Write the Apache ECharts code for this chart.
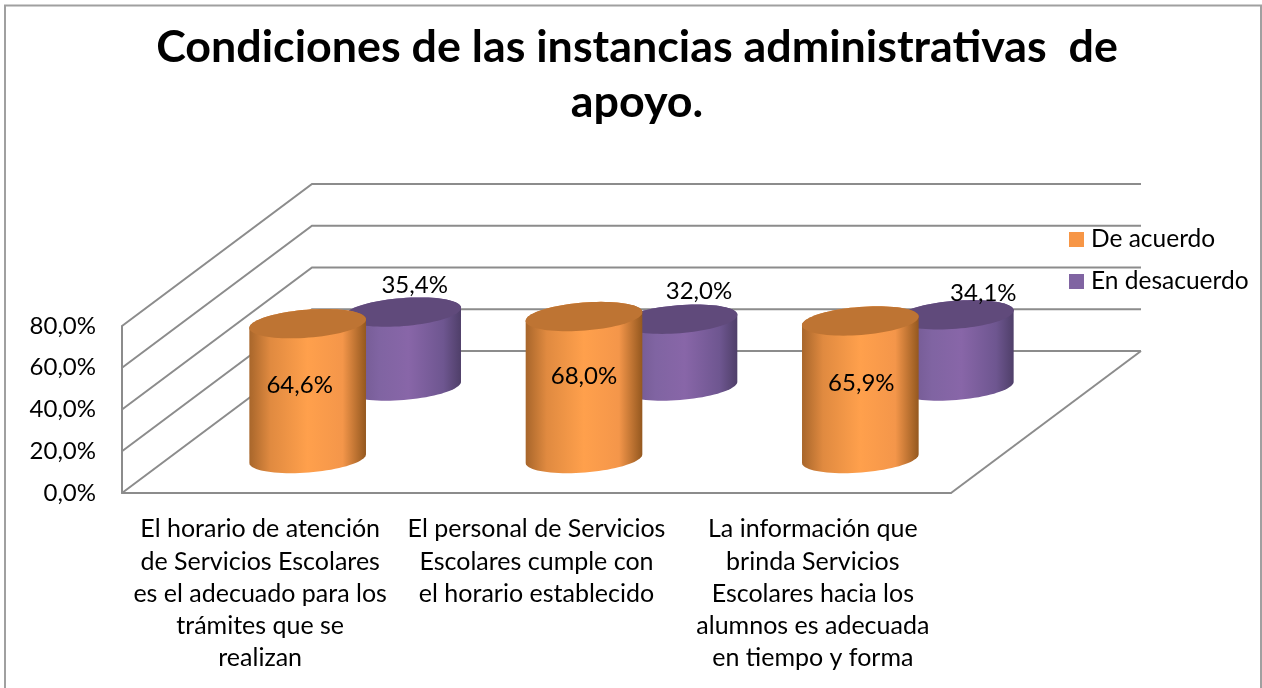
<!DOCTYPE html>
<html>
<head>
<meta charset="utf-8">
<style>html,body{margin:0;padding:0;background:#fff}#c{width:1262px;height:688px}</style>
<script src="https://cdn.jsdelivr.net/npm/echarts@6/dist/echarts.min.js"></script>
</head>
<body>
<div id="c"></div>
<script>
const categories = [
  "El horario de atención\nde Servicios Escolares\nes el adecuado para los\ntrámites que se\nrealizan",
  "El personal de Servicios\nEscolares cumple con\nel horario establecido",
  "La información que\nbrinda Servicios\nEscolares hacia los\nalumnos es adecuada\nen tiempo y forma"
];
const deAcuerdo = [64.6, 68.0, 65.9];
const enDesacuerdo = [35.4, 32.0, 34.1];
const wallTicks = [0, 20, 40, 60, 80];
const titleText = "Condiciones de las instancias administrativas  de\napoyo.";

const FONT = 'Lato, "Open Sans", sans-serif';
const DEPTH_X = 190, DEPTH_Y = 142;
const RX = 58.5, RY = 14, TILT = -4.5 * Math.PI / 180;

function fmt(v) { return v.toFixed(1).replace('.', ',') + '%'; }

function ellipsePts(cx, cy, from, to, n) {
  const out = [];
  for (let i = 0; i <= n; i++) {
    const t = from + (to - from) * i / n;
    const ex = RX * Math.cos(t), ey = RY * Math.sin(t);
    out.push([cx + ex * Math.cos(TILT) - ey * Math.sin(TILT),
              cy + ex * Math.sin(TILT) + ey * Math.cos(TILT)]);
  }
  return out;
}
function hGrad(stops) {
  return { type: 'linear', x: 0, y: 0, x2: 1, y2: 0, global: false,
    colorStops: stops.map(s => ({ offset: s[0], color: s[1] })) };
}
function cylinder(look) {
  return function (params, api) {
    const i = api.value(0), v = api.value(1);
    const base = api.coord([i, 0]), top = api.coord([i, v]);
    const cx = base[0] + look.dx, by = base[1] + look.dy, ty = top[1] + look.dy;
    const lower = ellipsePts(cx, by, 0, Math.PI, 40);
    const upper = ellipsePts(cx, ty, Math.PI, 2 * Math.PI, 40);
    const lab = look.labels[params.dataIndex];
    return { type: 'group', children: [
      { type: 'polygon', shape: { points: lower.concat(upper) },
        style: { fill: hGrad(look.body) } },
      { type: 'polygon', shape: { points: ellipsePts(cx, ty, 0, 2 * Math.PI, 80) },
        style: { fill: look.cap } },
      { type: 'text', z2: 100, style: { text: fmt(v), x: cx + lab[0], y: ty + lab[1],
        align: 'center', verticalAlign: 'middle', fill: '#000', font: '24px ' + FONT } }
    ] };
  };
}
const orangeLook = { dx: 47.5, dy: -34.5, cap: '#BE7433',
  labels: [[-8, 62], [0, 60], [1, 62]],
  body: [[0, '#A8662B'], [0.18, '#E08A40'], [0.5, '#FFA04C'], [0.8, '#F4964A'], [1, '#94581F']] };
const purpleLook = { dx: 142.5, dy: -107, cap: '#604A7B',
  labels: [[12, -27], [20, -28], [28, -22]],
  body: [[0, '#6B5488'], [0.3, '#8064A2'], [0.55, '#8866A8'], [0.85, '#6E5690'], [1, '#4F3F69']] };

function renderWall(params, api) {
  const p = api.coord([0, api.value(1)]);
  const x0 = p[0] - api.size([1, 0])[0] / 2;
  const w = api.size([1, 0])[0] * categories.length;
  return { type: 'polyline', shape: { points: [[x0, p[1]], [x0 + DEPTH_X, p[1] - DEPTH_Y], [x0 + DEPTH_X + w, p[1] - DEPTH_Y]] },
    style: { stroke: '#8C8C8C', lineWidth: 2, fill: null } };
}
function renderFloor(params, api) {
  const p = api.coord([categories.length - 1, 0]);
  const x1 = p[0] + api.size([1, 0])[0] / 2;
  return { type: 'polyline', shape: { points: [[x1, p[1]], [x1 + DEPTH_X, p[1] - DEPTH_Y]] },
    style: { stroke: '#8C8C8C', lineWidth: 2, fill: null } };
}

const chart = echarts.init(document.getElementById('c'), null, { renderer: 'canvas' });
chart.setOption({
  animation: false,
  backgroundColor: '#fff',
  graphic: [{ type: 'rect', shape: { x: 5, y: 5.5, width: 1256, height: 700 }, silent: true, z: -1,
    style: { fill: '#fff', stroke: '#A0A0A0', lineWidth: 2 } }],
  title: { text: titleText, left: 632, top: 15, textAlign: 'center',
    textStyle: { fontFamily: FONT, fontSize: 44.8, fontWeight: 'bold', color: '#000', lineHeight: 55 } },
  legend: { orient: 'vertical', left: 1069, top: 227, itemWidth: 15, itemHeight: 15, itemGap: 17, icon: 'rect',
    data: ['De acuerdo', 'En desacuerdo'],
    textStyle: { fontFamily: FONT, fontSize: 24.5, color: '#000', lineHeight: 15, padding: [0, 0, 0, 2] }, selectedMode: false, padding: 0 },
  grid: { left: 122, width: 829, top: 326, height: 167 },
  xAxis: { type: 'category', data: categories, boundaryGap: true,
    axisTick: { show: false },
    axisLine: { show: true, lineStyle: { color: '#8C8C8C', width: 2 } },
    axisLabel: { interval: 0, margin: 20, fontFamily: FONT, fontSize: 25, lineHeight: 32.3, color: '#000', align: 'center' } },
  yAxis: { type: 'value', min: 0, max: 80, interval: 20,
    splitLine: { show: false },
    axisTick: { show: false },
    axisLine: { show: true, lineStyle: { color: '#8C8C8C', width: 2 } },
    axisLabel: { margin: 26, fontFamily: FONT, fontSize: 24, color: '#000', formatter: fmt, padding: [4, 0, 0, 0] } },
  series: [
    { type: 'custom', name: 'walls', silent: true, z: 1, renderItem: renderWall, encode: { x: 0, y: 1 },
      data: wallTicks.map(t => [0, t]) },
    { type: 'custom', name: 'floor', silent: true, z: 1, renderItem: renderFloor, encode: { x: 0, y: 1 },
      data: [[0, 0]] },
    { type: 'custom', name: 'En desacuerdo', z: 2, renderItem: cylinder(purpleLook), encode: { x: 0, y: 1 },
      itemStyle: { color: '#8064A2' },
      data: enDesacuerdo.map((v, i) => [i, v]) },
    { type: 'custom', name: 'De acuerdo', z: 3, renderItem: cylinder(orangeLook), encode: { x: 0, y: 1 },
      itemStyle: { color: '#F79646' },
      data: deAcuerdo.map((v, i) => [i, v]) }
  ]
});
</script>
</body>
</html>
